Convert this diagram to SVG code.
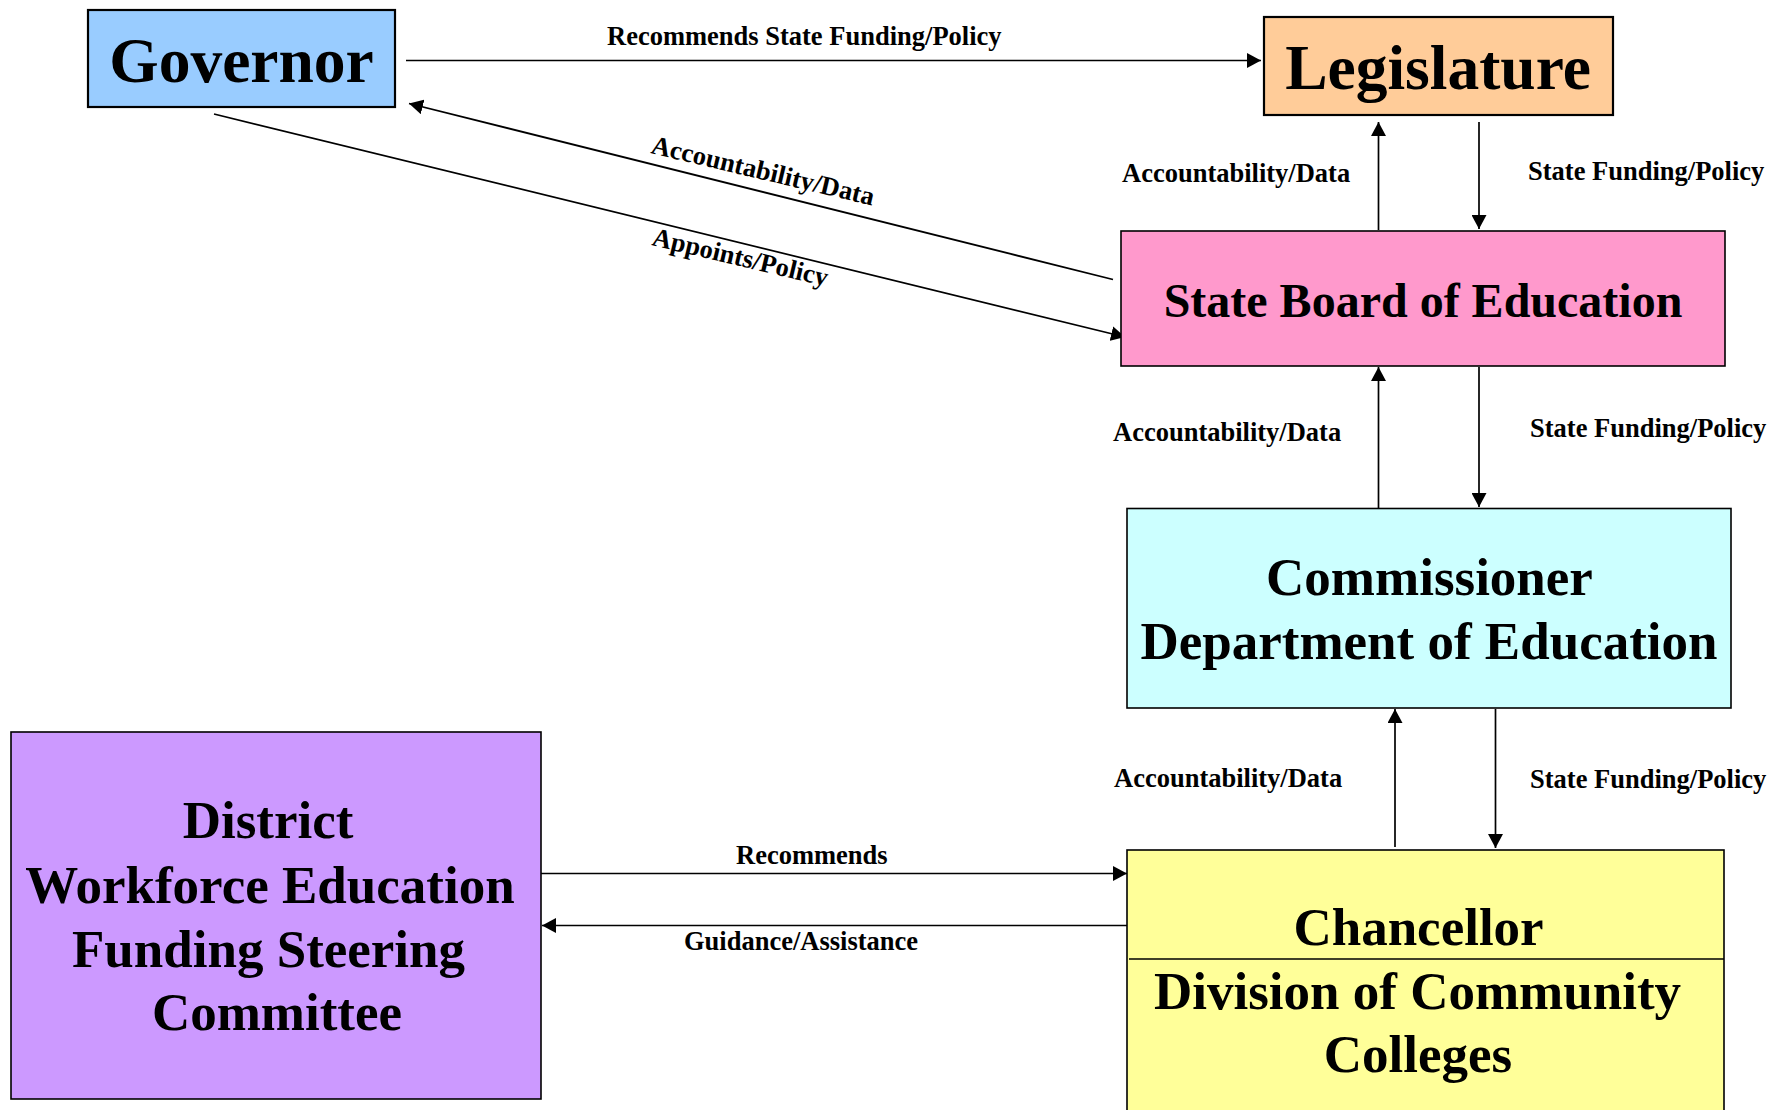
<svg xmlns="http://www.w3.org/2000/svg" width="1781" height="1110" viewBox="0 0 1781 1110">
<defs>
<style>
.box{stroke:#000;stroke-width:1.6}
.thick{stroke-width:2.2}
.big{font-family:"Liberation Serif","Times New Roman",serif;font-weight:bold;fill:#000;text-anchor:middle}
.lbl{font-family:"Liberation Serif","Times New Roman",serif;font-weight:bold;font-size:26.5px;fill:#000}
.conn{stroke:#000;stroke-width:1.7;fill:none;marker-end:url(#ah)}
</style>
<marker id="ah" markerUnits="userSpaceOnUse" markerWidth="15" markerHeight="15" refX="14" refY="7.5" orient="auto" viewBox="0 0 15 15">
<path d="M0,0 L14,7.5 L0,15 z" fill="#000"/>
</marker>
</defs>
<rect width="1781" height="1110" fill="#fff"/>

<g id="connectors">
<line class="conn" x1="406" y1="60.5" x2="1261" y2="60.5"/>
<line class="conn" x1="1113" y1="279.5" x2="409" y2="103.5"/>
<line class="conn" x1="214" y1="114" x2="1125" y2="337"/>
<line class="conn" x1="1378.5" y1="230" x2="1378.5" y2="122"/>
<line class="conn" x1="1479" y1="122" x2="1479" y2="229"/>
<line class="conn" x1="1378.5" y1="508" x2="1378.5" y2="367"/>
<line class="conn" x1="1479" y1="367" x2="1479" y2="507"/>
<line class="conn" x1="1395" y1="847" x2="1395" y2="709"/>
<line class="conn" x1="1495.5" y1="709" x2="1495.5" y2="848"/>
<line class="conn" x1="541" y1="873.5" x2="1127" y2="873.5"/>
<line class="conn" x1="1127" y1="925.5" x2="542" y2="925.5"/>
<text class="lbl" x="607" y="45">Recommends State Funding/Policy</text>
<text class="lbl" x="650" y="153" transform="rotate(13.3 650 153)">Accountability/Data</text>
<text class="lbl" x="651" y="245" transform="rotate(13.3 651 245)">Appoints/Policy</text>
<text class="lbl" x="1122" y="182">Accountability/Data</text>
<text class="lbl" x="1528" y="180">State Funding/Policy</text>
<text class="lbl" x="1113" y="441">Accountability/Data</text>
<text class="lbl" x="1530" y="437">State Funding/Policy</text>
<text class="lbl" x="1114" y="787">Accountability/Data</text>
<text class="lbl" x="1530" y="788">State Funding/Policy</text>
<text class="lbl" x="736" y="864">Recommends</text>
<text class="lbl" x="684" y="950">Guidance/Assistance</text>
</g>

<g id="governor">
<rect class="box thick" x="88" y="10" width="307" height="97" fill="#99CCFF"/>
<text class="big" x="241.5" y="82" font-size="63.5">Governor</text>
</g>

<g id="legislature">
<rect class="box thick" x="1264" y="17" width="349" height="98" fill="#FFCC99"/>
<text class="big" x="1438" y="89" font-size="63.5">Legislature</text>
</g>

<g id="state-board">
<rect class="box" x="1121" y="231" width="604" height="135" fill="#FF99CC"/>
<text class="big" x="1423" y="317" font-size="48">State Board of Education</text>
</g>

<g id="commissioner">
<rect class="box" x="1127" y="508.5" width="604" height="199.5" fill="#CCFFFF"/>
<text class="big" x="1429.5" y="595" font-size="53">Commissioner</text>
<text class="big" x="1429" y="659" font-size="53">Department of Education</text>
</g>

<g id="chancellor">
<rect class="box" x="1127" y="850" width="597" height="270" fill="#FFFF99"/>
<line x1="1129" y1="959" x2="1724" y2="959" stroke="#000" stroke-width="1.6"/>
<text class="big" x="1418.5" y="945" font-size="53">Chancellor</text>
<text class="big" x="1417.5" y="1009" font-size="53">Division of Community</text>
<text class="big" x="1418" y="1072" font-size="53">Colleges</text>
</g>

<g id="district-committee">
<rect class="box" x="11" y="732" width="530" height="367" fill="#CC99FF"/>
<text class="big" x="268" y="838" font-size="53">District</text>
<text class="big" x="270" y="903" font-size="53">Workforce Education</text>
<text class="big" x="268.5" y="967" font-size="53">Funding Steering</text>
<text class="big" x="277" y="1030" font-size="53">Committee</text>
</g>
</svg>
